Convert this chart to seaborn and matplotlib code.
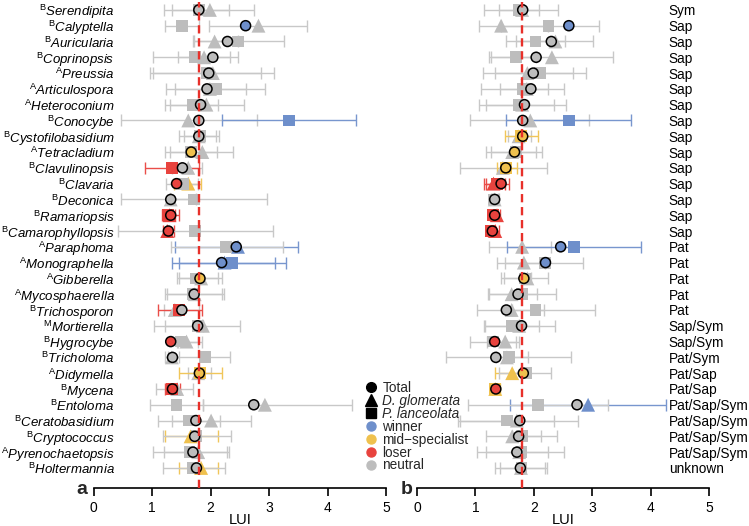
import numpy as np
import pandas as pd
import seaborn as sns
import matplotlib.pyplot as plt
from matplotlib.lines import Line2D

# -----------------------------
# Data
# -----------------------------
taxa = ['Serendipita', 'Calyptella', 'Auricularia', 'Coprinopsis', 'Preussia',
        'Articulospora', 'Heteroconium', 'Conocybe', 'Cystofilobasidium', 'Tetracladium',
        'Clavulinopsis', 'Clavaria', 'Deconica', 'Ramariopsis', 'Camarophyllopsis',
        'Paraphoma', 'Monographella', 'Gibberella', 'Mycosphaerella', 'Trichosporon',
        'Mortierella', 'Hygrocybe', 'Tricholoma', 'Didymella', 'Mycena',
        'Entoloma', 'Ceratobasidium', 'Cryptococcus', 'Pyrenochaetopsis', 'Holtermannia']
groups = list('BBBBAAABBABBBBBAAAABMBBABBBBAB')
lifestyle = ['Sym'] + ['Sap'] * 14 + ['Pat'] * 5 + ['Sap/Sym', 'Sap/Sym', 'Pat/Sym', 'Pat/Sap', 'Pat/Sap'] \
    + ['Pat/Sap/Sym'] * 4 + ['unknown']

# status codes: w = winner, m = mid-specialist, l = loser, n = neutral
# panel a
a_tot = [1.80, 2.60, 2.29, 2.04, 1.97, 1.94, 1.83, 1.80, 1.80, 1.67,
         1.52, 1.42, 1.32, 1.32, 1.28, 2.44, 2.19, 1.82, 1.72, 1.51,
         1.78, 1.32, 1.35, 1.81, 1.35, 2.74, 1.75, 1.73, 1.70, 1.76]
a_tot_s = list('nwnnnnnnnm' 'nlnllwwmnn' 'nlnmlnnnnn')
a_dg = [1.99, 2.82, 2.07, 1.89, 2.04, 1.99, 1.93, 1.62, 1.80, 1.86,
        1.62, 1.62, 1.32, 1.30, 1.26, 2.47, 2.24, 1.84, 1.73, 1.39,
        1.87, 1.59, 1.34, 1.79, 1.43, 2.93, 2.01, 1.66, 1.79, 1.84]
a_dg_lo = [1.34, 1.97, 1.70, 1.02, 0.96, 1.24, 1.31, 0.47, 1.47, 1.30,
           1.35, 1.37, 0.47, 1.17, 1.18, 1.40, 1.47, 1.43, 1.22, 1.20,
           1.04, 1.45, 1.27, 1.62, 1.07, 1.87, 1.34, 1.23, 1.20, 1.47]
a_dg_hi = [2.75, 3.65, 2.47, 2.47, 3.09, 2.61, 2.57, 2.80, 2.09, 2.39,
           1.86, 1.83, 1.75, 1.40, 1.38, 3.50, 3.11, 2.12, 2.20, 1.80,
           2.51, 1.86, 1.46, 2.00, 1.70, 4.42, 2.70, 2.12, 2.29, 2.12]
a_dg_s = list('nnnnnnnnnn' 'nmnllwwnnn' 'nnnnnnnmnm')
a_pl = [1.80, 1.51, 2.47, 1.73, 1.93, 2.09, 1.70, 3.34, 1.82, 1.66,
        1.34, 1.54, 1.72, 1.28, 1.74, 2.27, 2.37, 1.75, 1.70, 1.46,
        1.78, 1.50, 1.90, 1.82, 1.34, 1.42, 1.63, 1.76, 1.64, 1.70]
a_pl_lo = [1.20, 1.23, 1.72, 1.44, 1.02, 1.39, 1.23, 2.20, 1.54, 1.22,
           0.88, 1.24, 1.30, 1.20, 0.42, 1.32, 1.35, 1.46, 1.25, 1.10,
           1.23, 1.42, 1.23, 1.46, 1.22, 0.96, 1.10, 1.19, 1.02, 1.18]
a_pl_hi = [2.32, 1.80, 3.25, 2.34, 2.87, 2.93, 2.13, 4.49, 2.15, 2.11,
           1.80, 1.79, 2.96, 1.47, 3.07, 3.24, 3.29, 2.19, 2.23, 1.86,
           1.87, 1.79, 2.34, 2.19, 1.48, 1.87, 2.17, 2.35, 2.31, 2.24]
a_pl_s = list('nnnnnnnwnn' 'lnnlnnwnnl' 'nnnmlnnnnn')

# panel b
b_tot = [1.81, 2.60, 2.30, 2.04, 1.99, 1.95, 1.84, 1.81, 1.81, 1.67,
         1.52, 1.44, 1.33, 1.33, 1.29, 2.46, 2.20, 1.83, 1.73, 1.53,
         1.79, 1.33, 1.35, 1.82, 1.35, 2.74, 1.76, 1.74, 1.71, 1.77]
b_tot_s = list('nwnnnnnnmm' 'mlnllwwmnn' 'nlnmlnnnnn')
b_dg = [1.80, 1.44, 2.37, 2.31, 1.89, 1.88, 1.80, 1.94, 1.74, 1.63,
        1.47, 1.31, 1.33, 1.37, 1.34, 1.80, 1.83, 1.89, 1.62, 1.62,
        1.75, 1.51, 1.54, 1.63, 1.34, 2.93, 1.71, 1.63, 1.75, 1.78]
b_dg_lo = [1.15, 1.07, 1.53, 1.27, 1.13, 1.10, 1.06, 0.91, 1.55, 1.19,
           0.74, 1.14, 1.28, 1.30, 1.28, 1.23, 1.37, 1.43, 1.21, 1.03,
           1.14, 1.20, 0.50, 1.34, 1.28, 1.59, 0.73, 1.19, 1.02, 1.33]
b_dg_hi = [2.09, 2.25, 2.54, 3.35, 2.67, 2.24, 2.35, 2.94, 1.95, 2.04,
           2.23, 1.50, 1.38, 1.42, 1.40, 2.30, 2.19, 2.25, 2.06, 2.18,
           2.37, 1.74, 2.64, 1.80, 1.42, 4.27, 2.75, 2.13, 2.24, 2.19]
b_dg_s = list('nnnnnnnnnn' 'nlnllnnnnn' 'nnnmmwnnnn')
b_pl = [1.74, 2.25, 2.03, 1.69, 2.10, 1.82, 1.74, 2.60, 1.78, 1.70,
        1.53, 1.37, 1.32, 1.30, 1.26, 2.69, 2.19, 1.85, 1.80, 2.03,
        1.62, 1.30, 1.57, 1.87, 1.34, 2.07, 1.54, 1.80, 1.79, 1.79]
b_pl_lo = [1.40, 1.44, 1.69, 1.23, 1.33, 1.42, 1.19, 1.53, 1.50, 1.26,
           1.37, 1.19, 1.27, 1.25, 1.22, 1.54, 1.51, 1.49, 1.23, 1.62,
           1.16, 0.90, 1.35, 1.40, 1.28, 0.87, 0.70, 1.63, 1.19, 1.42]
b_pl_hi = [2.41, 3.11, 3.01, 2.04, 2.90, 2.51, 2.55, 3.66, 2.07, 2.14,
           1.71, 1.57, 1.40, 1.36, 1.32, 3.83, 2.84, 1.95, 2.38, 3.04,
           2.09, 1.70, 1.90, 2.30, 1.40, 3.27, 2.35, 2.39, 2.51, 2.23]
b_pl_s = list('nnnnnnnwmn' 'mlnllwnnnn' 'nnnnmnnnnn')

colors = {'w': '#6E8FCB', 'm': '#EFC14E', 'l': '#E8433E', 'n': '#BDBDBD'}
bar_colors = {'w': '#7896CE', 'm': '#F0C65A', 'l': '#EA4E49', 'n': '#C8C8C8'}


def panel_frame(tot, tot_s, dg, dg_lo, dg_hi, dg_s, pl, pl_lo, pl_hi, pl_s):
    n = len(tot)
    rows = np.arange(n)
    parts = [
        pd.DataFrame({'row': rows, 'series': 'Total', 'value': tot, 'lo': tot, 'hi': tot, 'status': tot_s}),
        pd.DataFrame({'row': rows, 'series': 'Dg', 'value': dg, 'lo': dg_lo, 'hi': dg_hi, 'status': dg_s}),
        pd.DataFrame({'row': rows, 'series': 'Pl', 'value': pl, 'lo': pl_lo, 'hi': pl_hi, 'status': pl_s}),
    ]
    return pd.concat(parts, ignore_index=True)


df_a = panel_frame(a_tot, a_tot_s, a_dg, a_dg_lo, a_dg_hi, a_dg_s, a_pl, a_pl_lo, a_pl_hi, a_pl_s)
df_b = panel_frame(b_tot, b_tot_s, b_dg, b_dg_lo, b_dg_hi, b_dg_s, b_pl, b_pl_lo, b_pl_hi, b_pl_s)

# -----------------------------
# Style
# -----------------------------
sns.set_theme(style='white')
plt.rcParams['font.family'] = ['Liberation Sans', 'DejaVu Sans']
plt.rcParams['mathtext.fontset'] = 'custom'
plt.rcParams['mathtext.rm'] = 'Liberation Sans'
plt.rcParams['mathtext.it'] = 'Liberation Sans:italic'

fig = plt.figure(figsize=(7.49, 5.26), dpi=100)
ax_a = fig.add_axes([93.5 / 749, 38 / 526, 292.5 / 749, 486 / 526])
ax_b = fig.add_axes([417 / 749, 38 / 526, 292 / 749, 486 / 526])


def draw_panel(ax, df):
    # error bars: D. glomerata first, P. lanceolata on top
    for series in ['Dg', 'Pl']:
        sub = df[df.series == series]
        for code, g in sub.groupby('status'):
            ax.errorbar(g.value, g.row, xerr=[g.value - g.lo, g.hi - g.value], fmt='none',
                        ecolor=bar_colors[code], elinewidth=1.0, capsize=4, capthick=1.0, zorder=2)
    specs = [('Dg', '^', 100, 'none', 0, 3),
             ('Pl', 's', 72, 'none', 0, 4),
             ('Total', 'o', 52, 'black', 1.1, 5)]
    for series, marker, size, ec, lw, z in specs:
        sns.scatterplot(data=df[df.series == series], x='value', y='row', hue='status',
                        palette=colors, marker=marker, s=size, edgecolor=ec, linewidth=lw,
                        legend=False, ax=ax, zorder=z)
    ax.axvline(1.8, color='#E8302A', lw=1.7, dashes=(3.5, 2), zorder=6)

    ax.set_xlim(0, 5)
    ax.set_ylim(30.27, -0.5)
    ax.set_yticks([])
    ax.set_xticks(range(6))
    for s in ['left', 'top', 'right']:
        ax.spines[s].set_visible(False)
    ax.spines['bottom'].set_color('black')
    ax.spines['bottom'].set_linewidth(1.2)
    ax.tick_params(axis='x', bottom=True, length=6, width=1.2, color='black',
                   labelsize=10, pad=3, labelcolor='black')
    ax.set_xlabel('LUI', fontsize=10.5, labelpad=-1, color='black')
    ax.set_ylabel('')
    ax.grid(False)
    ax.patch.set_alpha(0)


draw_panel(ax_a, df_a)
draw_panel(ax_b, df_b)

# taxon names
for i, (name, g) in enumerate(zip(taxa, groups)):
    ax_a.text(0.36, i, r'$^{\mathrm{' + g + '}}$' + name, ha='right', va='center_baseline',
              style='italic', fontsize=9.5, color='black')

# lifestyle
for i, lab in enumerate(lifestyle):
    ax_b.text(4.31, i, lab, ha='left', va='center_baseline', fontsize=9.8,
              color='black', clip_on=False)

# panel letters
fig.text(87 / 749, 32 / 526, 'a', fontsize=14, fontweight='bold', ha='right', va='baseline')
fig.text(413 / 749, 32 / 526, 'b', fontsize=14, fontweight='bold', ha='right', va='baseline')

# legend
handles = [
    Line2D([], [], marker='o', color='black', ls='none', markersize=7),
    Line2D([], [], marker='^', color='black', ls='none', markersize=8),
    Line2D([], [], marker='s', color='black', ls='none', markersize=7),
    Line2D([], [], marker='o', color=colors['w'], ls='none', markersize=6.5),
    Line2D([], [], marker='o', color=colors['m'], ls='none', markersize=6.5),
    Line2D([], [], marker='o', color=colors['l'], ls='none', markersize=6.5),
    Line2D([], [], marker='o', color=colors['n'], ls='none', markersize=6.5),
]
labels = ['Total', 'D. glomerata', 'P. lanceolata', 'winner', 'mid\u2212specialist', 'loser', 'neutral']
leg = fig.legend(handles, labels, loc='upper left', bbox_to_anchor=(366 / 749, 1 - 381 / 526),
                 frameon=False, fontsize=9.8, handlelength=0.8, handletextpad=0.4,
                 labelspacing=-0.08, borderpad=0, borderaxespad=0)
for t in leg.get_texts()[1:3]:
    t.set_style('italic')

fig.savefig('out.png', dpi=100)
